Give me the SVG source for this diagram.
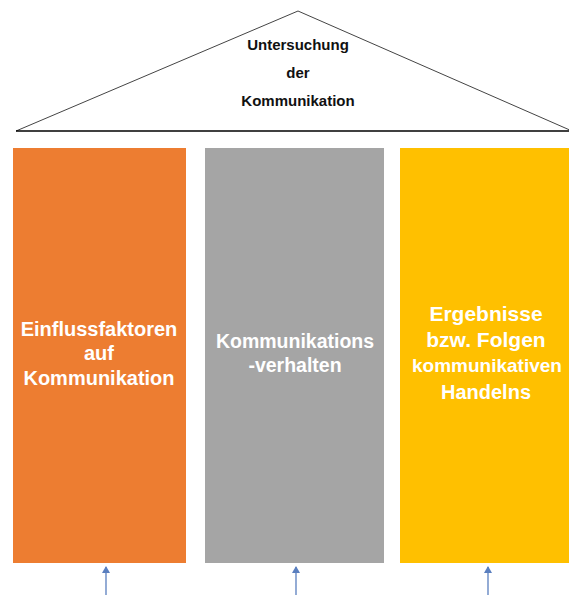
<svg xmlns="http://www.w3.org/2000/svg" width="569" height="595" viewBox="0 0 569 595">
<style>
.t{font-family:"Liberation Sans",Arial,sans-serif;font-weight:bold;text-anchor:middle}
.w{fill:#fff}
.k{fill:#111;font-size:15px}
.arr{stroke:#5a7fbf;stroke-width:1.3;fill:none;marker-end:url(#ah)}
</style>
<defs>
<marker id="ah" markerWidth="8" markerHeight="8" refX="6" refY="4" orient="auto" markerUnits="userSpaceOnUse">
<path d="M0,0 L7,4 L0,8 Z" fill="#5a7fbf"/>
</marker>
</defs>
<rect width="569" height="595" fill="#fff"/>
<g id="roof">
<path d="M16,131 L298,11 L572,131" fill="none" stroke="#444" stroke-width="1"/>
<line x1="16" y1="131" x2="569" y2="131" stroke="#000" stroke-width="1.3"/>
<text class="t k" x="298" y="50">Untersuchung</text>
<text class="t k" x="298" y="78">der</text>
<text class="t k" x="298" y="106">Kommunikation</text>
</g>
<g id="col1">
<rect x="13" y="148" width="173" height="415" fill="#ed7d31"/>
<text class="t w" x="99" y="336" font-size="20">Einflussfaktoren</text>
<text class="t w" x="99" y="360" font-size="20">auf</text>
<text class="t w" x="99" y="385" font-size="20">Kommunikation</text>
</g>
<g id="col2">
<rect x="205" y="148" width="179" height="415" fill="#a5a5a5"/>
<text class="t w" x="295" y="348" font-size="19.5">Kommunikations</text>
<text class="t w" x="295" y="372" font-size="19.5">-verhalten</text>
</g>
<g id="col3">
<rect x="400" y="148" width="175" height="415" fill="#ffc000"/>
<text class="t w" x="486" y="321" font-size="21">Ergebnisse</text>
<text class="t w" x="486" y="347" font-size="21">bzw. Folgen</text>
<text class="t w" x="487" y="372" font-size="19">kommunikativen</text>
<text class="t w" x="486" y="399" font-size="20">Handelns</text>
</g>
<g id="connectors">
<line class="arr" x1="106" y1="595" x2="106" y2="567"/>
<line class="arr" x1="296" y1="595" x2="296" y2="567"/>
<line class="arr" x1="488" y1="595" x2="488" y2="567"/>
</g>
</svg>
